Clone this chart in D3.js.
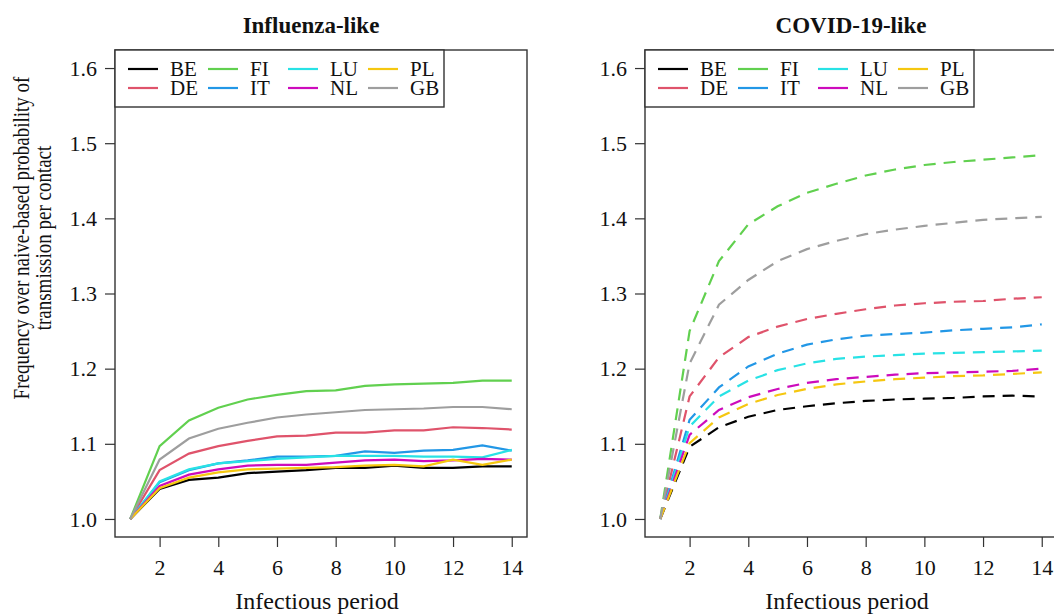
<!DOCTYPE html>
<html>
<head>
<meta charset="utf-8">
<script src="https://cdn.jsdelivr.net/npm/d3@7"></script>
<style>
  body { margin: 0; background: #fff; }
  svg { display: block; font-family: "Liberation Serif", "Times New Roman", serif; }
  svg text { font-family: "Liberation Serif", "Times New Roman", serif; }
</style>
</head>
<body>
<svg id="chart" width="1054" height="614"></svg>
<script>
// countries in legend order (column-major, 4 columns x 2 rows)
var countries = ["BE", "DE", "FI", "IT", "LU", "NL", "PL", "GB"];
var colors = ["#000000", "#DF536B", "#61D04F", "#2297E6", "#28E2E5", "#CD0BBC", "#F5C710", "#9E9E9E"];

// infectious period (days)
var periods = [1, 2, 3, 4, 5, 6, 7, 8, 9, 10, 11, 12, 13, 14];

// Influenza-like panel, one array per country
var fluBE = [1, 1.040, 1.052, 1.055, 1.061, 1.063, 1.065, 1.068, 1.068, 1.071, 1.068, 1.068, 1.070, 1.070];
var fluDE = [1, 1.065, 1.087, 1.097, 1.104, 1.110, 1.111, 1.115, 1.115, 1.118, 1.118, 1.122, 1.121, 1.119];
var fluFI = [1, 1.097, 1.131, 1.148, 1.159, 1.165, 1.170, 1.171, 1.177, 1.179, 1.180, 1.181, 1.184, 1.184];
var fluIT = [1, 1.049, 1.065, 1.074, 1.078, 1.083, 1.083, 1.084, 1.090, 1.088, 1.091, 1.092, 1.098, 1.091];
var fluLU = [1, 1.050, 1.066, 1.074, 1.077, 1.080, 1.082, 1.084, 1.084, 1.084, 1.083, 1.083, 1.082, 1.092];
var fluNL = [1, 1.044, 1.059, 1.066, 1.071, 1.072, 1.072, 1.075, 1.078, 1.079, 1.077, 1.078, 1.080, 1.079];
var fluPL = [1, 1.041, 1.055, 1.062, 1.066, 1.067, 1.068, 1.069, 1.071, 1.072, 1.070, 1.079, 1.072, 1.079];
var fluGB = [1, 1.079, 1.107, 1.120, 1.128, 1.135, 1.139, 1.142, 1.145, 1.146, 1.147, 1.149, 1.149, 1.146];

// COVID-19-like panel
var covBE = [1, 1.096, 1.122, 1.136, 1.145, 1.150, 1.154, 1.157, 1.159, 1.160, 1.161, 1.163, 1.164, 1.163];
var covDE = [1, 1.163, 1.215, 1.242, 1.256, 1.266, 1.273, 1.279, 1.284, 1.287, 1.289, 1.290, 1.293, 1.295];
var covFI = [1, 1.250, 1.343, 1.392, 1.416, 1.434, 1.446, 1.457, 1.465, 1.471, 1.475, 1.478, 1.481, 1.484];
var covIT = [1, 1.132, 1.175, 1.203, 1.220, 1.232, 1.239, 1.244, 1.246, 1.248, 1.251, 1.253, 1.255, 1.259];
var covLU = [1, 1.123, 1.163, 1.184, 1.198, 1.207, 1.213, 1.216, 1.218, 1.220, 1.221, 1.222, 1.223, 1.224];
var covNL = [1, 1.112, 1.145, 1.162, 1.173, 1.181, 1.186, 1.189, 1.192, 1.194, 1.195, 1.196, 1.197, 1.200];
var covPL = [1, 1.101, 1.135, 1.153, 1.165, 1.173, 1.179, 1.183, 1.186, 1.188, 1.190, 1.191, 1.193, 1.195];
var covGB = [1, 1.207, 1.285, 1.318, 1.343, 1.359, 1.370, 1.379, 1.385, 1.390, 1.394, 1.398, 1.400, 1.402];

var fluSeries = [fluBE, fluDE, fluFI, fluIT, fluLU, fluNL, fluPL, fluGB];
var covSeries = [covBE, covDE, covFI, covIT, covLU, covNL, covPL, covGB];

var yTicks = [1.0, 1.1, 1.2, 1.3, 1.4, 1.5, 1.6];
var xTicks = [2, 4, 6, 8, 10, 12, 14];

var serif = "'Liberation Serif', 'Times New Roman', serif";
var svg = d3.select("#chart");

// R style: 4% padding on both axes
var panelW = 412;
var plotTop = 50, plotBottom = 537;

function drawPanel(left, title, titleX, series, dashed) {

    var x = d3.scaleLinear().domain([0.48, 14.52]).range([left, left + panelW]);
    var y = d3.scaleLinear().domain([0.976, 1.624]).range([plotBottom, plotTop]);

    var g = svg.append("g");

    // y axis
    var yAxis = g.append("g")
        .attr("transform", "translate(" + left + ",0)")
        .call(d3.axisLeft(y).tickValues(yTicks).tickFormat(d3.format(".1f")).tickSize(10).tickPadding(8));
    yAxis.attr("font-family", null).style("font-family", serif);
    yAxis.select(".domain").remove();
    yAxis.selectAll("line").attr("stroke", "#333").attr("stroke-width", 1.2);
    yAxis.selectAll("text").attr("font-size", 22).style("font-family", serif).attr("fill", "#111");

    // x axis
    var xAxis = g.append("g")
        .attr("transform", "translate(0," + plotBottom + ")")
        .call(d3.axisBottom(x).tickValues(xTicks).tickSize(10).tickPadding(12));
    xAxis.attr("font-family", null).style("font-family", serif);
    xAxis.select(".domain").remove();
    xAxis.selectAll("line").attr("stroke", "#333").attr("stroke-width", 1.2);
    xAxis.selectAll("text").attr("font-size", 22).style("font-family", serif).attr("fill", "#111");

    // lines
    var line = d3.line()
        .x(function(d, i) { return x(periods[i]); })
        .y(function(d) { return y(d); });

    g.selectAll("path.series")
        .data(series)
        .enter()
        .append("path")
        .attr("class", "series")
        .attr("d", line)
        .attr("fill", "none")
        .attr("stroke", function(d, i) { return colors[i]; })
        .attr("stroke-width", 2.2)
        .attr("stroke-dasharray", dashed ? "12,8" : null);

    // frame
    g.append("rect")
        .attr("x", left)
        .attr("y", plotTop)
        .attr("width", panelW)
        .attr("height", plotBottom - plotTop)
        .attr("fill", "none")
        .attr("stroke", "#333")
        .attr("stroke-width", 1.4);

    // legend
    var leg = g.append("g");
    leg.append("rect")
        .attr("x", left)
        .attr("y", plotTop)
        .attr("width", 329)
        .attr("height", 57)
        .attr("fill", "#fff")
        .attr("stroke", "#333")
        .attr("stroke-width", 1.4);

    var items = leg.selectAll("g.item")
        .data(countries)
        .enter()
        .append("g")
        .attr("class", "item")
        .attr("transform", function(d, i) {
            var col = Math.floor(i / 2), row = i % 2;
            return "translate(" + (left + 13 + col * 80) + "," + (plotTop + 19 + row * 19) + ")";
        });
    items.append("line")
        .attr("x1", 0).attr("x2", 30)
        .attr("stroke", function(d, i) { return colors[i]; })
        .attr("stroke-width", 2.2);
    items.append("text")
        .attr("x", 42)
        .attr("y", 7)
        .attr("font-size", 21)
        .attr("fill", "#111")
        .text(function(d) { return d; });

    // title
    g.append("text")
        .attr("x", titleX)
        .attr("y", 33)
        .attr("text-anchor", "middle")
        .attr("font-weight", "bold")
        .attr("font-size", 23)
        .attr("fill", "#111")
        .text(title);

    // x label
    g.append("text")
        .attr("x", left + panelW / 2 - 4)
        .attr("y", 609)
        .attr("text-anchor", "middle")
        .attr("font-size", 24)
        .attr("fill", "#111")
        .text("Infectious period");
}

drawPanel(115, "Influenza-like", 311, fluSeries, false);
drawPanel(645, "COVID-19-like", 851, covSeries, true);

// y label, two lines (glyphs drawn a little wider, as in the source figure)
var ylab = svg.append("text")
    .attr("transform", "translate(29,238) scale(1.25,1) rotate(-90)")
    .attr("text-anchor", "middle")
    .attr("font-size", 19)
    .attr("fill", "#111");
ylab.append("tspan").attr("x", 0).attr("dy", 0).text("Frequency over naive-based probability of");
ylab.append("tspan").attr("x", 0).attr("dy", 17.6).text("transmission per contact");
</script>
</body>
</html>
